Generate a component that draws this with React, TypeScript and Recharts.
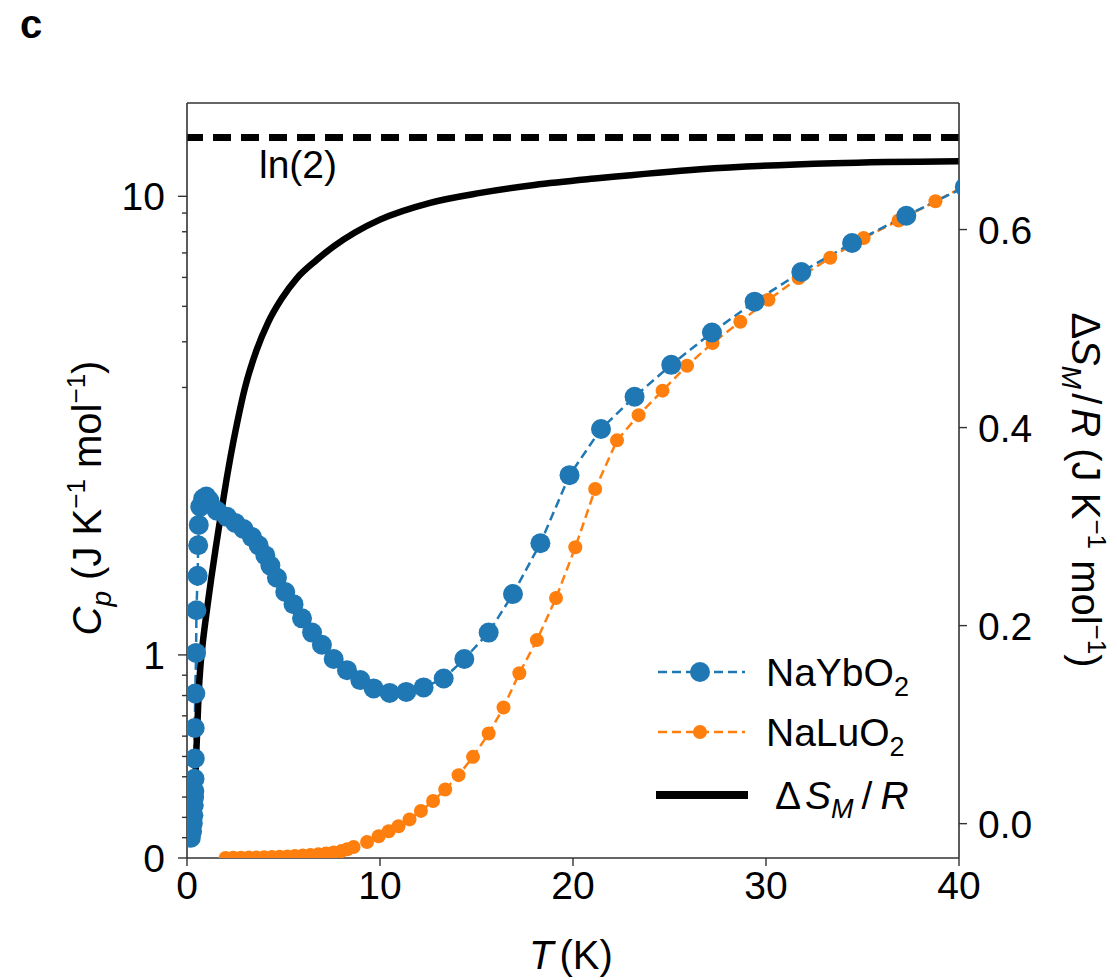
import React from 'react';
import { ComposedChart, Line, XAxis, YAxis, ReferenceLine, Legend } from 'recharts';

// ---------- data ----------
const NAYB_T = [
  0.2, 0.26, 0.3, 0.33, 0.35, 0.37, 0.38, 0.39, 0.4, 0.4, 0.43, 0.47, 0.49, 0.55, 0.58, 0.61, 0.69, 0.84, 1.0, 1.16,
  1.55, 2.07, 2.5, 2.93, 3.37, 3.71, 4.06, 4.32, 4.66, 5.09, 5.52, 5.96, 6.48, 6.99, 7.6, 8.29, 8.98, 9.67, 10.5,
  11.36, 12.26, 13.3, 14.37, 15.63, 16.89, 18.31, 19.82, 21.45, 23.19, 25.09, 27.2, 29.41, 31.83, 34.46, 37.27, 40.3,
];
const NAYB_CP = [
  0.1, 0.13, 0.17, 0.21, 0.26, 0.3, 0.33, 0.39, 0.49, 0.64, 0.81, 1.01, 1.22, 1.39, 1.54, 1.64, 1.73, 1.77, 1.78, 1.76,
  1.71, 1.68, 1.65, 1.62, 1.58, 1.54, 1.49, 1.44, 1.38, 1.31, 1.25, 1.18, 1.11, 1.05, 0.98, 0.925, 0.876, 0.835, 0.813,
  0.818, 0.84, 0.884, 0.98, 1.11, 1.3, 1.55, 1.885, 2.31, 2.83, 3.46, 4.24, 5.15, 6.21, 7.45, 8.85, 10.6,
];

const NALU_T = [
  2.0, 2.4, 2.8, 3.2, 3.6, 4.0, 4.4, 4.8, 5.2, 5.6, 6.0, 6.4, 6.8, 7.2, 7.6, 8.0, 8.3, 8.63, 9.33, 9.93, 10.45, 10.96,
  11.53, 12.12, 12.75, 13.38, 14.07, 14.82, 15.63, 16.4, 17.22, 18.13, 19.12, 20.12, 21.15, 22.28, 23.4, 24.64, 25.91,
  27.23, 28.67, 30.13, 31.69, 33.33, 35.06, 36.87, 38.78, 40.5,
];
const NALU_CP = [
  0.0005, 0.001, 0.0015, 0.002, 0.003, 0.004, 0.005, 0.006, 0.008, 0.01, 0.012, 0.015, 0.018, 0.022, 0.027, 0.034, 0.043,
  0.054, 0.079, 0.107, 0.132, 0.156, 0.19, 0.232, 0.281, 0.337, 0.408, 0.498, 0.613, 0.741, 0.91, 1.073, 1.28, 1.53,
  1.817, 2.15, 2.52, 2.94, 3.44, 3.97, 4.54, 5.21, 5.98, 6.79, 7.69, 8.59, 9.69, 10.8,
];

const DS_T = [
  0.38, 0.42, 0.46, 0.52, 0.6, 0.7, 0.85, 1.04, 1.25, 1.47, 1.7, 1.9, 2.25, 2.6, 3.0, 3.6, 4.2, 4.9, 5.7, 6.7, 7.6, 8.7,
  10.0, 12.6, 15.2, 18.0, 21.4, 26.6, 33.5, 40.0,
];
const DS_R = [
  0.005, 0.03, 0.06, 0.09, 0.13, 0.16, 0.188, 0.217, 0.247, 0.276, 0.305, 0.33, 0.37, 0.405, 0.44, 0.478, 0.506,
  0.53, 0.551, 0.569, 0.583, 0.597, 0.61, 0.627, 0.637, 0.645, 0.652, 0.661, 0.667, 0.669,
];

const LN2_LEVEL = 0.693;

const X_TICKS = [0, 10, 20, 30, 40];
const CP_MAJOR_TICKS = [0, 1, 10];
const CP_MINOR_TICKS = [0.1, 0.2, 0.3, 0.4, 0.5, 0.6, 0.7, 0.8, 0.9, 3, 4, 5, 6, 7, 8, 9];
const DS_TICKS = [0, 0.2, 0.4, 0.6];

const CP_DOMAIN = [0, 18];
const DS_DOMAIN = [-0.0347, 0.7278];
const X_DOMAIN = [0, 40];

const naYb = NAYB_T.map((T, i) => ({ T, Cp: NAYB_CP[i] }));
const naLu = NALU_T.map((T, i) => ({ T, Cp: NALU_CP[i] }));
const dS = DS_T.map((T, i) => ({ T, dS: DS_R[i] }));

// ---------- styles ----------
const BLUE = '#1f77b4';
const ORANGE = '#ff7f0e';
const AXIS = '#333333';
const FONT = '"Liberation Sans", Arial, Helvetica, sans-serif';
const TICK_FS = 39;
const LABEL_FS = 40;
const LEGEND_FS = 39;

// ---------- matplotlib-like symlog scale (base 10, linthresh 2, linscale 1) ----------
const LINTHRESH = 2;
const LINSCALE_ADJ = 1 / (1 - 1 / 10);
function symFwd(v: number): number {
  const a = Math.abs(v);
  if (a <= LINTHRESH) return v * LINSCALE_ADJ;
  return Math.sign(v) * LINTHRESH * (LINSCALE_ADJ + Math.log10(a / LINTHRESH));
}
function symInv(t: number): number {
  const a = Math.abs(t);
  if (a <= LINTHRESH * LINSCALE_ADJ) return t / LINSCALE_ADJ;
  return Math.sign(t) * LINTHRESH * Math.pow(10, a / LINTHRESH - LINSCALE_ADJ);
}
function makeSymlogScale(): any {
  let dom: number[] = [0, 1];
  let rng: number[] = [0, 1];
  const scale: any = (v: number) => {
    const t0 = symFwd(dom[0]);
    const t1 = symFwd(dom[1]);
    return rng[0] + ((symFwd(Number(v)) - t0) / (t1 - t0)) * (rng[1] - rng[0]);
  };
  scale.domain = (d?: any[]) => {
    if (d === undefined) return dom.slice();
    dom = d.map(Number);
    return scale;
  };
  scale.range = (r?: any[]) => {
    if (r === undefined) return rng.slice();
    rng = r.map(Number);
    return scale;
  };
  scale.invert = (p: number) => {
    const t0 = symFwd(dom[0]);
    const t1 = symFwd(dom[1]);
    return symInv(t0 + ((p - rng[0]) / (rng[1] - rng[0])) * (t1 - t0));
  };
  scale.copy = () => makeSymlogScale().domain(dom).range(rng);
  scale.ticks = () => CP_MAJOR_TICKS.slice();
  scale.tickFormat = () => (v: number) => String(v);
  scale.nice = () => scale;
  scale.clamp = () => scale;
  return scale;
}
const cpScale = makeSymlogScale();

// ---------- ticks ----------
const LeftTick = (props: any) => {
  const { x, y, payload } = props;
  const v = payload.value;
  const major = CP_MAJOR_TICKS.includes(v);
  return (
    <g>
      <line x1={x} x2={x - (major ? 9 : 5)} y1={y} y2={y} stroke={AXIS} strokeWidth={1.4} />
      {major && (
        <text x={x - 22} y={y} dy="0.36em" textAnchor="end" fontSize={TICK_FS} fontFamily={FONT} fill="#000">
          {String(v)}
        </text>
      )}
    </g>
  );
};

const RightTick = (props: any) => {
  const { x, y, payload } = props;
  return (
    <g>
      <line x1={x} x2={x + 8} y1={y} y2={y} stroke={AXIS} strokeWidth={1.4} />
      <text x={x + 19} y={y} dy="0.36em" textAnchor="start" fontSize={TICK_FS} fontFamily={FONT} fill="#000">
        {Number(payload.value).toFixed(1)}
      </text>
    </g>
  );
};

const BottomTick = (props: any) => {
  const { x, y, payload } = props;
  return (
    <g>
      <line x1={x} x2={x} y1={y} y2={y + 8} stroke={AXIS} strokeWidth={1.4} />
      <text x={x} y={y + 41} textAnchor="middle" fontSize={TICK_FS} fontFamily={FONT} fill="#000">
        {String(payload.value)}
      </text>
    </g>
  );
};

// ---------- axis labels ----------
const LeftLabel = () => {
  const cx = 93;
  const cy = 490;
  return (
    <text transform={`rotate(-90, ${cx}, ${cy})`} x={cx} y={cy} textAnchor="middle" fontSize={LABEL_FS} fontFamily={FONT} fill="#000">
      <tspan fontStyle="italic">C</tspan>
      <tspan fontStyle="italic" fontSize={28} dy={10}>p</tspan>
      <tspan dy={-10}> (J K</tspan>
      <tspan fontSize={26} dy={-16}>−1</tspan>
      <tspan dy={16}> mol</tspan>
      <tspan fontSize={26} dy={-16}>−1</tspan>
      <tspan dy={16}>)</tspan>
    </text>
  );
};

const RightLabel = () => {
  const cx = 1064;
  const cy = 482;
  return (
    <text transform={`rotate(90, ${cx}, ${cy})`} x={cx} y={cy} textAnchor="middle" fontSize={LABEL_FS} fontFamily={FONT} fill="#000">
      <tspan>Δ</tspan>
      <tspan fontStyle="italic">S</tspan>
      <tspan fontStyle="italic" fontSize={28} dy={10}>M</tspan>
      <tspan dy={-10} dx={4}>/</tspan>
      <tspan fontStyle="italic" dx={4}>R</tspan>
      <tspan> (J K</tspan>
      <tspan fontSize={26} dy={-16}>−1</tspan>
      <tspan dy={16}> mol</tspan>
      <tspan fontSize={26} dy={-16}>−1</tspan>
      <tspan dy={16}>)</tspan>
    </text>
  );
};

const BottomLabel = () => (
  <text x={563} y={961} textAnchor="middle" fontSize={LABEL_FS} fontFamily={FONT} fill="#000">
    <tspan fontStyle="italic">T</tspan>
    <tspan dx={6}>(K)</tspan>
  </text>
);

const Ln2Label = () => (
  <text x={251} y={170} fontSize={LEGEND_FS} fontFamily={FONT} fill="#000">
    ln(2)
  </text>
);

// ---------- legend ----------
const LegendBox = () => (
  <svg width={340} height={200} style={{ display: 'block', overflow: 'visible' }}>
    <line x1={8} x2={95} y1={42} y2={42} stroke={BLUE} strokeWidth={2.5} strokeDasharray="9 5" />
    <circle cx={50} cy={42} r={10} fill={BLUE} />
    <text x={116} y={42} dy="0.36em" fontSize={LEGEND_FS} fontFamily={FONT} fill="#000">
      NaYbO<tspan fontSize={27} dy={10}>2</tspan>
    </text>
    <line x1={8} x2={95} y1={102} y2={102} stroke={ORANGE} strokeWidth={2.5} strokeDasharray="9 5" />
    <circle cx={50} cy={102} r={7} fill={ORANGE} />
    <text x={116} y={102} dy="0.36em" fontSize={LEGEND_FS} fontFamily={FONT} fill="#000">
      NaLuO<tspan fontSize={27} dy={10}>2</tspan>
    </text>
    <line x1={6} x2={98} y1={165} y2={165} stroke="#000" strokeWidth={8} />
    <text x={125} y={165} dy="0.36em" fontSize={LEGEND_FS} fontFamily={FONT} fill="#000">
      <tspan>Δ</tspan>
      <tspan fontStyle="italic" dx={4}>S</tspan>
      <tspan fontStyle="italic" fontSize={27} dy={9}>M</tspan>
      <tspan dy={-9} dx={8}>/</tspan>
      <tspan fontStyle="italic" dx={8}>R</tspan>
    </text>
  </svg>
);

export default function App() {
  return (
    <div style={{ position: 'relative', width: 1109, height: 972 }}>
      <div
        style={{
          position: 'absolute',
          left: 12,
          top: -4,
          fontFamily: FONT,
          fontWeight: 'bold',
          fontSize: 40,
          lineHeight: '40px',
          zIndex: 2,
        }}
      >
        c
      </div>
      <ComposedChart width={1109} height={972} margin={{ top: 94, left: 79, right: 58, bottom: 62 }}>
        <XAxis
          xAxisId="main"
          dataKey="T"
          type="number"
          domain={X_DOMAIN}
          ticks={X_TICKS}
          interval={0}
          allowDataOverflow
          tickSize={0}
          tickMargin={0}
          tick={<BottomTick />}
          height={60}
          axisLine={{ stroke: AXIS, strokeWidth: 1.6 }}
          label={{ content: () => <BottomLabel /> }}
        />
        <XAxis
          xAxisId="top"
          orientation="top"
          type="number"
          domain={X_DOMAIN}
          tick={false}
          tickLine={false}
          height={1}
          axisLine={{ stroke: AXIS, strokeWidth: 1.6 }}
        />
        <YAxis
          yAxisId="left"
          type="number"
          scale={cpScale}
          domain={CP_DOMAIN}
          ticks={[...CP_MAJOR_TICKS, ...CP_MINOR_TICKS]}
          interval={0}
          allowDataOverflow
          tickSize={0}
          tickMargin={0}
          tick={<LeftTick />}
          width={100}
          axisLine={{ stroke: AXIS, strokeWidth: 1.6 }}
          label={{ content: () => <LeftLabel /> }}
        />
        <YAxis
          yAxisId="right"
          orientation="right"
          type="number"
          domain={DS_DOMAIN}
          ticks={DS_TICKS}
          interval={0}
          allowDataOverflow
          tickSize={0}
          tickMargin={0}
          tick={<RightTick />}
          width={100}
          axisLine={{ stroke: AXIS, strokeWidth: 1.6 }}
          label={{ content: () => <RightLabel /> }}
        />
        <Line
          data={naLu}
          dataKey="Cp"
          xAxisId="main"
          yAxisId="left"
          stroke={ORANGE}
          strokeWidth={2.5}
          strokeDasharray="9 5"
          dot={{ r: 7, fill: ORANGE, stroke: 'none', strokeDasharray: '0' }}
          activeDot={false}
          isAnimationActive={false}
          name="NaLuO2"
        />
        <Line
          data={naYb}
          dataKey="Cp"
          xAxisId="main"
          yAxisId="left"
          stroke={BLUE}
          strokeWidth={2.5}
          strokeDasharray="9 5"
          dot={{ r: 10, fill: BLUE, stroke: 'none', strokeDasharray: '0' }}
          activeDot={false}
          isAnimationActive={false}
          name="NaYbO2"
        />
        <Line
          data={dS}
          dataKey="dS"
          xAxisId="main"
          yAxisId="right"
          type="monotone"
          stroke="#000"
          strokeWidth={6.5}
          dot={false}
          activeDot={false}
          isAnimationActive={false}
          name="ΔS_M/R"
        />
        <ReferenceLine
          y={LN2_LEVEL}
          xAxisId="main"
          yAxisId="right"
          stroke="#000"
          strokeWidth={7}
          strokeDasharray="18 10"
          label={{ content: () => <Ln2Label /> }}
        />
        <Legend
          layout="vertical"
          align="center"
          verticalAlign="middle"
          content={() => <LegendBox />}
          wrapperStyle={{ left: 642, top: 622, width: 340, height: 200 }}
        />
      </ComposedChart>
    </div>
  );
}
